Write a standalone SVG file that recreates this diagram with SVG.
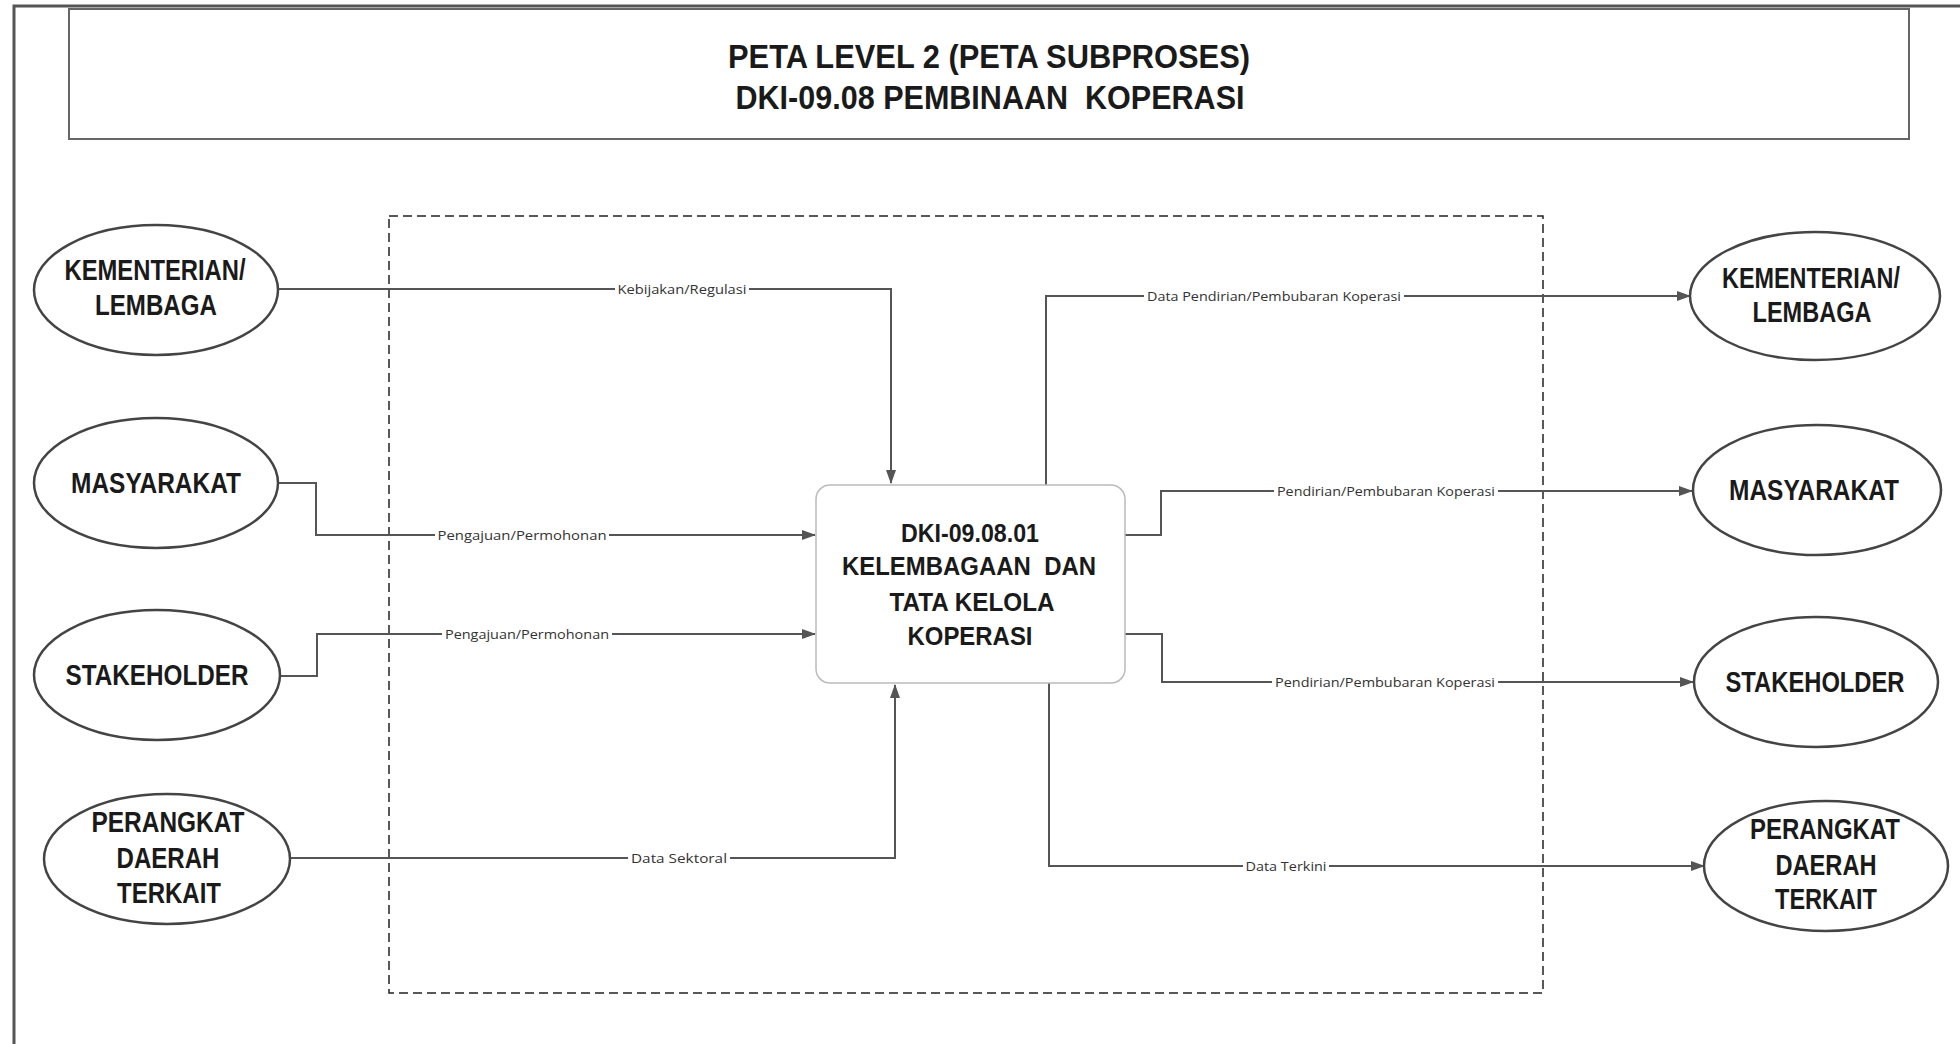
<svg xmlns="http://www.w3.org/2000/svg" width="1960" height="1044" viewBox="0 0 1960 1044">
<defs>
<style>
.node{fill:#fff;stroke:#444;stroke-width:2.5}
.nt{font-family:"Liberation Sans Narrow","Liberation Sans",Arial,sans-serif;font-weight:bold;font-size:29px;fill:#1a1a1a;text-anchor:middle}
.bt{font-family:"Liberation Sans",Arial,sans-serif;font-weight:bold;font-size:25px;fill:#1a1a1a;text-anchor:middle}
.tt{font-family:"Liberation Sans Narrow","Liberation Sans",Arial,sans-serif;font-weight:bold;font-size:33px;fill:#1a1a1a;text-anchor:middle}
.conn{fill:none;stroke:#555;stroke-width:2}
.lbl{font-family:"Open Sans","Liberation Sans",sans-serif;font-size:13px;fill:#333;text-anchor:middle}
.lb{fill:#fff}
</style>
<marker id="arr" viewBox="0 0 14 10" refX="13" refY="5" markerWidth="14" markerHeight="10" markerUnits="userSpaceOnUse" orient="auto">
<path d="M0,0 L14,5 L0,10 Z" fill="#555"/>
</marker>
</defs>
<rect width="1960" height="1044" fill="#fff"/>
<g id="frame">
<path d="M14,1044 V6 H1960" fill="none" stroke="#555" stroke-width="3"/>
<rect x="69" y="9" width="1840" height="130" fill="#fff" stroke="#666" stroke-width="2"/>
<text class="tt" x="989" y="68" textLength="522" lengthAdjust="spacingAndGlyphs">PETA LEVEL 2 (PETA SUBPROSES)</text>
<text class="tt" x="990" y="109" textLength="509" lengthAdjust="spacingAndGlyphs" xml:space="preserve">DKI-09.08 PEMBINAAN  KOPERASI</text>
</g>
<g id="boundary">
<rect x="389" y="216" width="1154" height="777" fill="none" stroke="#222" stroke-width="1.5" stroke-dasharray="9 5"/>
</g>
<g id="connectors">
<path class="conn" d="M278,289 H891 V483" marker-end="url(#arr)"/>
<path class="conn" d="M278,483 H316 V535 H815" marker-end="url(#arr)"/>
<path class="conn" d="M280,676 H317 V634 H815" marker-end="url(#arr)"/>
<path class="conn" d="M290,858 H895 V685" marker-end="url(#arr)"/>
<path class="conn" d="M1046,485 V296 H1690" marker-end="url(#arr)"/>
<path class="conn" d="M1125,535 H1161 V491 H1692" marker-end="url(#arr)"/>
<path class="conn" d="M1125,634 H1162 V682 H1693" marker-end="url(#arr)"/>
<path class="conn" d="M1049,683 V866 H1704" marker-end="url(#arr)"/>
<rect class="lb" x="615" y="282" width="134" height="14"/>
<text class="lbl" x="682" y="294" textLength="129" lengthAdjust="spacingAndGlyphs">Kebijakan/Regulasi</text>
<rect class="lb" x="435" y="528" width="174" height="14"/>
<text class="lbl" x="522" y="540" textLength="169" lengthAdjust="spacingAndGlyphs">Pengajuan/Permohonan</text>
<rect class="lb" x="442" y="627" width="170" height="14"/>
<text class="lbl" x="527" y="639" textLength="164" lengthAdjust="spacingAndGlyphs">Pengajuan/Permohonan</text>
<rect class="lb" x="628" y="851" width="102" height="14"/>
<text class="lbl" x="679" y="863" textLength="96" lengthAdjust="spacingAndGlyphs">Data Sektoral</text>
<rect class="lb" x="1144" y="289" width="260" height="14"/>
<text class="lbl" x="1274" y="301" textLength="254" lengthAdjust="spacingAndGlyphs">Data Pendirian/Pembubaran Koperasi</text>
<rect class="lb" x="1274" y="484" width="224" height="14"/>
<text class="lbl" x="1386" y="496" textLength="218" lengthAdjust="spacingAndGlyphs">Pendirian/Pembubaran Koperasi</text>
<rect class="lb" x="1272" y="675" width="226" height="14"/>
<text class="lbl" x="1385" y="687" textLength="220" lengthAdjust="spacingAndGlyphs">Pendirian/Pembubaran Koperasi</text>
<rect class="lb" x="1243" y="859" width="86" height="14"/>
<text class="lbl" x="1286" y="871" textLength="81" lengthAdjust="spacingAndGlyphs">Data Terkini</text>
</g>
<g id="process">
<rect x="816" y="485" width="309" height="198" rx="14" fill="#fff" stroke="#bbb" stroke-width="1.5"/>
<text class="bt" x="970" y="542" textLength="138" lengthAdjust="spacingAndGlyphs">DKI-09.08.01</text>
<text class="bt" x="969" y="575" textLength="254" lengthAdjust="spacingAndGlyphs" xml:space="preserve">KELEMBAGAAN  DAN</text>
<text class="bt" x="972" y="611" textLength="165" lengthAdjust="spacingAndGlyphs">TATA KELOLA</text>
<text class="bt" x="970" y="645" textLength="125" lengthAdjust="spacingAndGlyphs">KOPERASI</text>
</g>
<g id="in-kementerian">
<ellipse class="node" cx="156" cy="290" rx="122" ry="65"/>
<text class="nt" x="155" y="280" textLength="181" lengthAdjust="spacingAndGlyphs">KEMENTERIAN/</text>
<text class="nt" x="156" y="315" textLength="122" lengthAdjust="spacingAndGlyphs">LEMBAGA</text>
</g>
<g id="in-masyarakat">
<ellipse class="node" cx="156" cy="483" rx="122" ry="65"/>
<text class="nt" x="156" y="493" textLength="170" lengthAdjust="spacingAndGlyphs">MASYARAKAT</text>
</g>
<g id="in-stakeholder">
<ellipse class="node" cx="157" cy="675" rx="123" ry="65"/>
<text class="nt" x="157" y="685" textLength="183" lengthAdjust="spacingAndGlyphs">STAKEHOLDER</text>
</g>
<g id="in-perangkat">
<ellipse class="node" cx="167" cy="859" rx="123" ry="65"/>
<text class="nt" x="168" y="832" textLength="153" lengthAdjust="spacingAndGlyphs">PERANGKAT</text>
<text class="nt" x="168" y="868" textLength="103" lengthAdjust="spacingAndGlyphs">DAERAH</text>
<text class="nt" x="169" y="903" textLength="104" lengthAdjust="spacingAndGlyphs">TERKAIT</text>
</g>
<g id="out-kementerian">
<ellipse class="node" cx="1815" cy="296" rx="125" ry="64"/>
<text class="nt" x="1811" y="288" textLength="178" lengthAdjust="spacingAndGlyphs">KEMENTERIAN/</text>
<text class="nt" x="1812" y="322" textLength="119" lengthAdjust="spacingAndGlyphs">LEMBAGA</text>
</g>
<g id="out-masyarakat">
<ellipse class="node" cx="1817" cy="490" rx="124" ry="65"/>
<text class="nt" x="1814" y="500" textLength="170" lengthAdjust="spacingAndGlyphs">MASYARAKAT</text>
</g>
<g id="out-stakeholder">
<ellipse class="node" cx="1816" cy="682" rx="122" ry="65"/>
<text class="nt" x="1815" y="692" textLength="179" lengthAdjust="spacingAndGlyphs">STAKEHOLDER</text>
</g>
<g id="out-perangkat">
<ellipse class="node" cx="1826" cy="866" rx="122" ry="65"/>
<text class="nt" x="1825" y="839" textLength="150" lengthAdjust="spacingAndGlyphs">PERANGKAT</text>
<text class="nt" x="1826" y="875" textLength="101" lengthAdjust="spacingAndGlyphs">DAERAH</text>
<text class="nt" x="1826" y="909" textLength="102" lengthAdjust="spacingAndGlyphs">TERKAIT</text>
</g>
</svg>
